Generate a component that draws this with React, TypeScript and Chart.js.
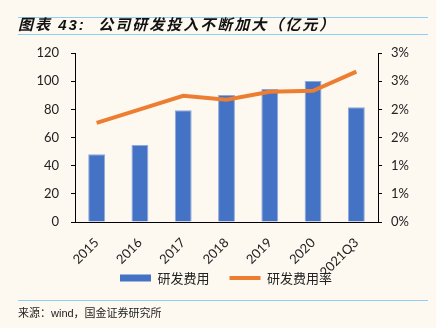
import React, { useEffect, useRef } from 'react';
import { Chart, registerables } from 'chart.js';

Chart.register(...registerables);

const categories = ['2015', '2016', '2017', '2018', '2019', '2020', '2021Q3'];
const rdExpense = [48.1, 54.7, 79.3, 90.2, 94.4, 100.1, 81.4];
const rdRatio = [1.76, 2.0, 2.24, 2.17, 2.31, 2.33, 2.67];
const leftMax = 120;
const leftStep = 20;
const rightMax = 3;
const rightStep = 0.5;
const seriesNames = ['研发费用', '研发费用率'];

const BLUE = '#4472C4';
const ORANGE = '#ED7D31';
const TICK_FONT = { family: 'Lato, "Liberation Sans", sans-serif', size: 13 };

const shiftLegend = {
  id: 'shiftLegend',
  afterLayout(chart: any) {
    const l = chart.legend;
    if (!l) return;
    const dy = -22.5;
    l.top += dy;
    l.bottom += dy;
  },
};

export default function App() {
  const ref = useRef<HTMLCanvasElement>(null);

  useEffect(() => {
    const chart = new Chart(ref.current as HTMLCanvasElement, {
      type: 'bar',
      data: {
        labels: categories,
        datasets: [
          {
            type: 'bar',
            label: seriesNames[0],
            data: rdExpense,
            backgroundColor: BLUE,
            borderColor: '#8FA9DC',
            borderWidth: 1,
            barPercentage: 0.39,
            categoryPercentage: 1,
            yAxisID: 'y',
            order: 1,
          },
          {
            type: 'line',
            label: seriesNames[1],
            data: rdRatio,
            borderColor: ORANGE,
            backgroundColor: ORANGE,
            borderWidth: 4,
            pointRadius: 0,
            tension: 0,
            yAxisID: 'y1',
            order: 0,
          },
        ],
      } as any,
      plugins: [shiftLegend],
      options: {
        responsive: false,
        animation: false,
        layout: { padding: { left: 16, right: 0, top: 53, bottom: 11 } },
        plugins: {
          tooltip: { enabled: false },
          legend: {
            position: 'bottom',
            labels: {
              usePointStyle: true,
              pointStyleWidth: 31,
              boxHeight: 7,
              padding: 20,
              color: '#222',
              font: { family: '"Noto Sans CJK SC", sans-serif', size: 13 },
              sort: (a: any, b: any) => a.datasetIndex - b.datasetIndex,
              generateLabels: (c: any) => {
                const items = (Chart.defaults.plugins.legend.labels as any).generateLabels(c);
                items.forEach((it: any) => {
                  if (it.datasetIndex === 0) {
                    it.pointStyle = 'rect';
                    it.lineWidth = 0;
                    it.fillStyle = BLUE;
                  } else {
                    it.pointStyle = 'line';
                    it.lineWidth = 4;
                    it.strokeStyle = ORANGE;
                  }
                });
                return items;
              },
            },
          },
        },
        scales: {
          x: {
            offset: true,
            grid: { display: true, drawOnChartArea: false, drawTicks: false },
            border: { display: true, color: '#000', width: 1 },
            ticks: {
              minRotation: 45,
              maxRotation: 45,
              color: '#222',
              font: TICK_FONT,
              padding: 13,
            },
            afterFit: (s: any) => {
              s.height = 52;
            },
          },
          y: {
            position: 'left',
            min: 0,
            max: leftMax,
            grid: { drawOnChartArea: false, color: '#000', tickLength: 4 },
            border: { display: true, color: '#000', width: 1 },
            ticks: { stepSize: leftStep, color: '#222', font: TICK_FONT, padding: 12 },
            afterFit: (s: any) => {
              s.width = 59;
            },
          },
          y1: {
            position: 'right',
            min: 0,
            max: rightMax,
            grid: { drawOnChartArea: false, color: '#000', tickLength: 4 },
            border: { display: true, color: '#000', width: 1 },
            ticks: {
              stepSize: rightStep,
              color: '#222',
              font: TICK_FONT,
              padding: 9,
              callback: (v: any) => Math.round(Number(v)) + '%',
            },
            afterFit: (s: any) => {
              s.width = 58;
            },
          },
        },
      } as any,
    });
    return () => chart.destroy();
  }, []);

  return (
    <div
      style={{
        position: 'fixed',
        left: 0,
        top: 0,
        width: 436,
        height: 328,
        background: '#FDF9F0',
        overflow: 'hidden',
      }}
    >
      <canvas
        ref={ref}
        width={436}
        height={328}
        style={{ position: 'absolute', left: 0, top: 0, width: 436, height: 328 }}
      />
      <div style={{ position: 'absolute', left: 18, top: 16.5, width: 410, borderTop: '1.5px solid #8ED0F4' }} />
      <div
        style={{
          position: 'absolute',
          left: 18,
          top: 16,
          height: 17,
          lineHeight: '17px',
          fontSize: 15,
          fontWeight: 'bold',
          fontStyle: 'italic',
          fontFamily: '"Liberation Sans", "Noto Sans CJK SC", sans-serif',
          color: '#111',
          whiteSpace: 'nowrap',
          letterSpacing: 2,
        }}
      >
        图表 43:&nbsp; 公司研发投入不断加大（亿元）
      </div>
      <div style={{ position: 'absolute', left: 18, top: 33.5, width: 410, borderTop: '1.5px solid #8ED0F4' }} />
      <div style={{ position: 'absolute', left: 18, top: 299.5, width: 410, borderTop: '1.5px solid #8ED0F4' }} />
      <div
        style={{
          position: 'absolute',
          left: 18,
          top: 306,
          lineHeight: '14px',
          fontSize: 11,
          fontFamily: '"Liberation Sans", "Noto Sans CJK SC", sans-serif',
          color: '#222',
          whiteSpace: 'nowrap',
        }}
      >
        来源：wind，国金证券研究所
      </div>
    </div>
  );
}
